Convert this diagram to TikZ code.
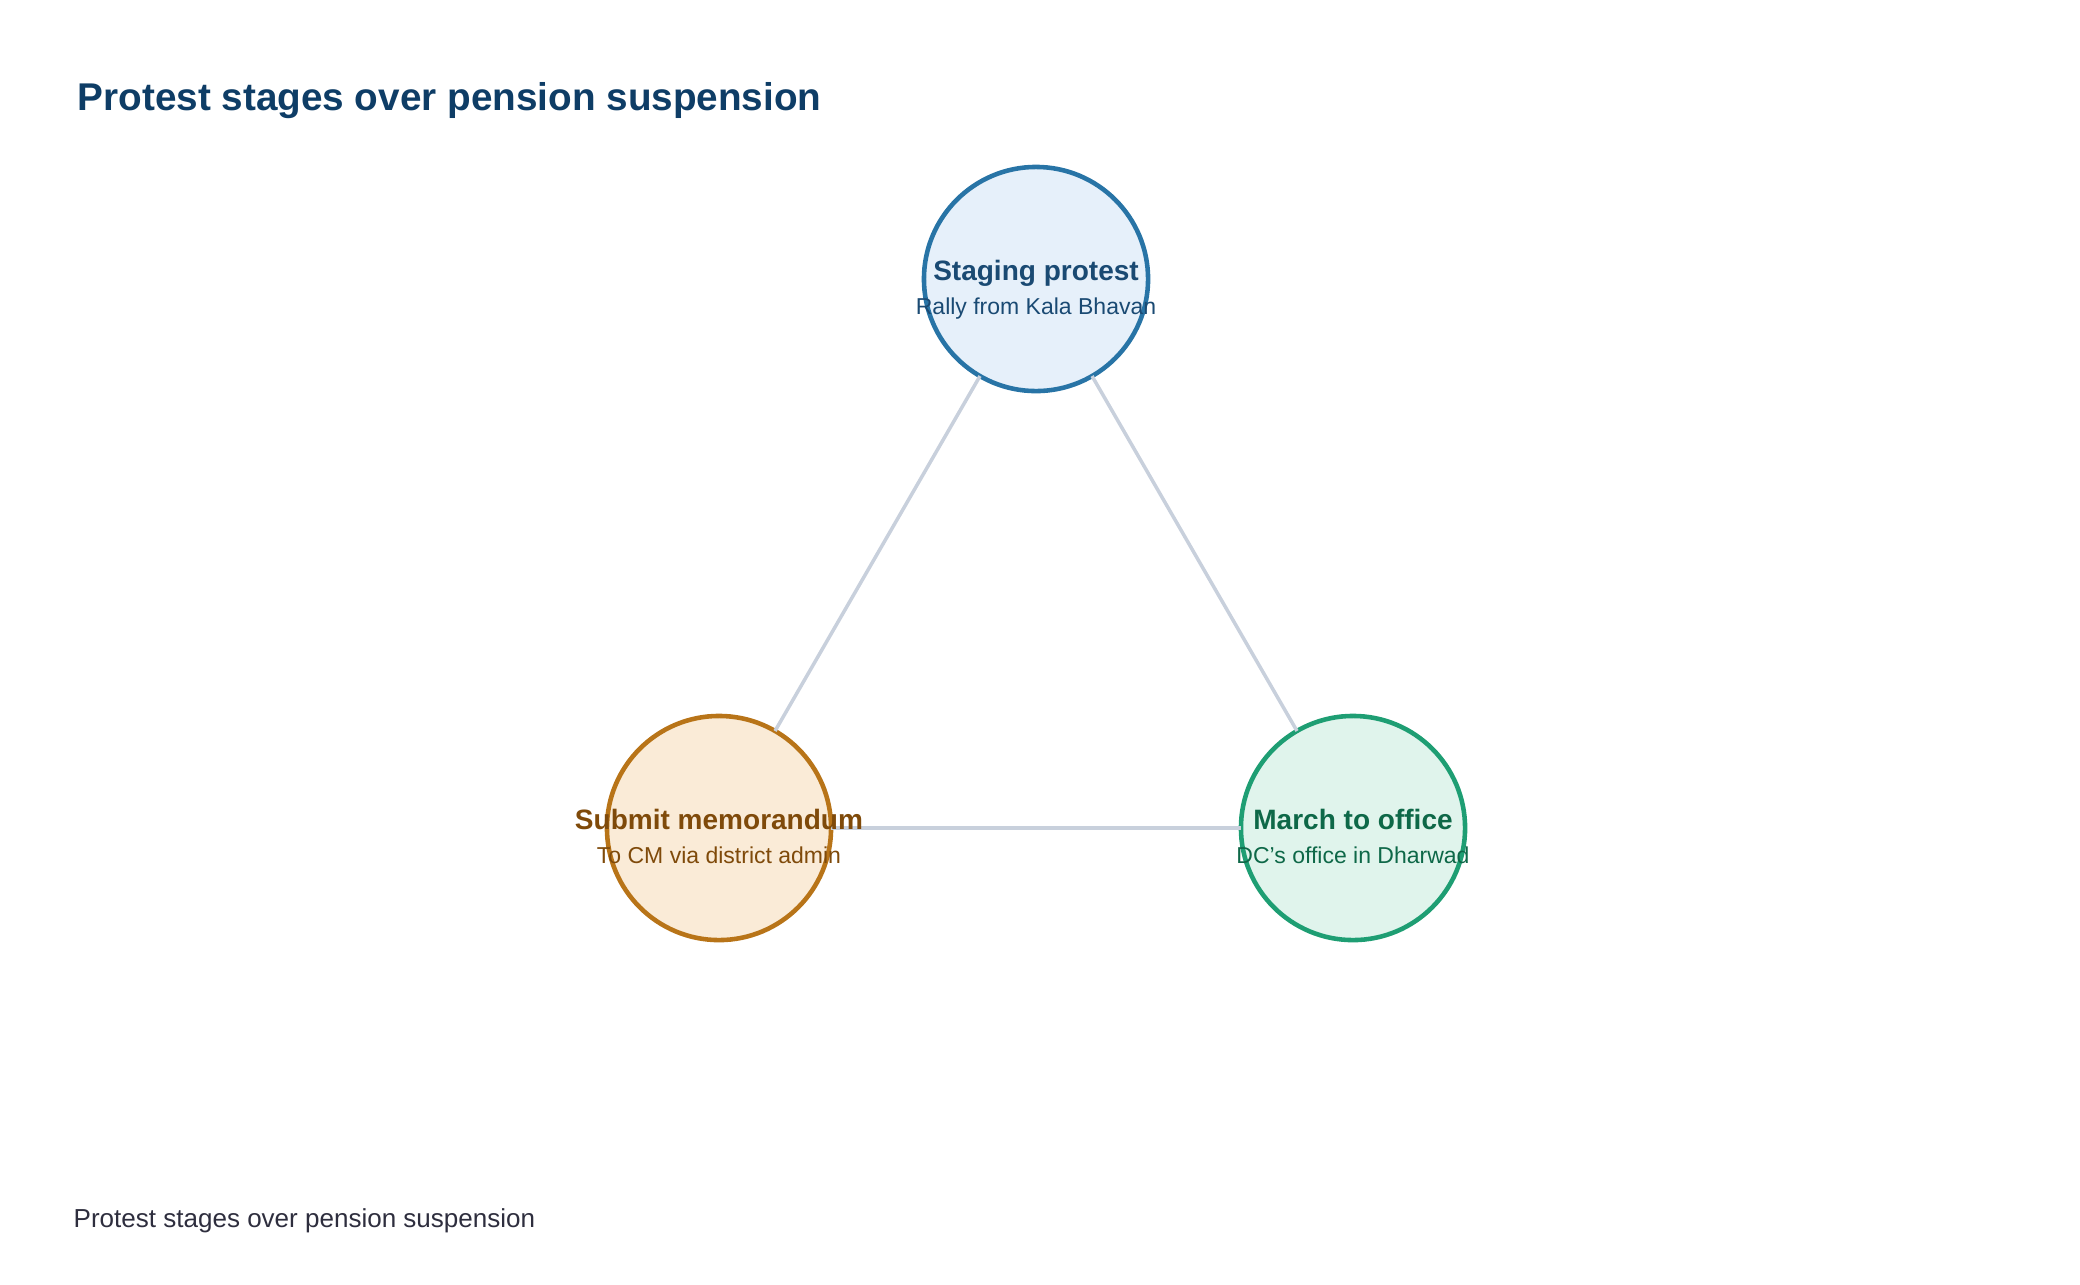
\documentclass[tikz,border=0pt]{standalone}
\usepackage{fontspec}
\setmainfont{Liberation Sans}
\definecolor{titleblue}{HTML}{0E3D66}
\definecolor{edgegray}{HTML}{C8D0DC}
\definecolor{footgray}{HTML}{2E2E3E}
\definecolor{blueline}{HTML}{2874A6}
\definecolor{bluefill}{HTML}{E6F0FA}
\definecolor{bluetext}{HTML}{1A4A73}
\definecolor{orangeline}{HTML}{B87418}
\definecolor{orangefill}{HTML}{FAEBD7}
\definecolor{orangetext}{HTML}{7F4A0A}
\definecolor{greenline}{HTML}{1E9E73}
\definecolor{greenfill}{HTML}{E0F4EC}
\definecolor{greentext}{HTML}{0E6848}
\tikzset{
  stagecircle/.style={circle, line width=1.3pt, minimum size=2.24cm, inner sep=0pt, outer sep=0pt},
  stagehead/.style={anchor=base, inner sep=0pt, font=\fontsize{7.97}{9.5}\selectfont\bfseries},
  stagesub/.style={anchor=base, inner sep=0pt, font=\fontsize{6.54}{8}\selectfont},
  link/.style={draw=edgegray, line width=1pt}
}
\begin{document}
\begin{tikzpicture}[x=0.01cm, y=-0.01cm]
\useasboundingbox (0,0) rectangle (2080,1284);
\node[anchor=base west, inner sep=0pt, text=titleblue, font=\fontsize{11.0}{13}\selectfont\bfseries] (title) at (77, 110) {Protest stages over pension suspension};
\node[stagecircle, draw=blueline, fill=bluefill] (staging) at (1036, 279) {};
\node[stagecircle, draw=orangeline, fill=orangefill] (memo) at (719, 828) {};
\node[stagecircle, draw=greenline, fill=greenfill] (march) at (1353, 828) {};
\draw[link] (staging) -- (memo);
\draw[link] (staging) -- (march);
\draw[link] (memo) -- (march);
\node[stagehead, text=bluetext] (staging-head) at (1036, 280) {Staging protest};
\node[stagesub, text=bluetext] (staging-sub) at (1036, 314) {Rally from Kala Bhavan};
\node[stagehead, text=orangetext] (memo-head) at (719, 829) {Submit memorandum};
\node[stagesub, text=orangetext] (memo-sub) at (719, 863) {To CM via district admin};
\node[stagehead, text=greentext] (march-head) at (1353, 829) {March to office};
\node[stagesub, text=greentext] (march-sub) at (1353, 863) {DC’s office in Dharwad};
\node[anchor=base west, inner sep=0pt, text=footgray, font=\fontsize{7.4}{9}\selectfont] (footer) at (73, 1227) {Protest stages over pension suspension};
\end{tikzpicture}
\end{document}
